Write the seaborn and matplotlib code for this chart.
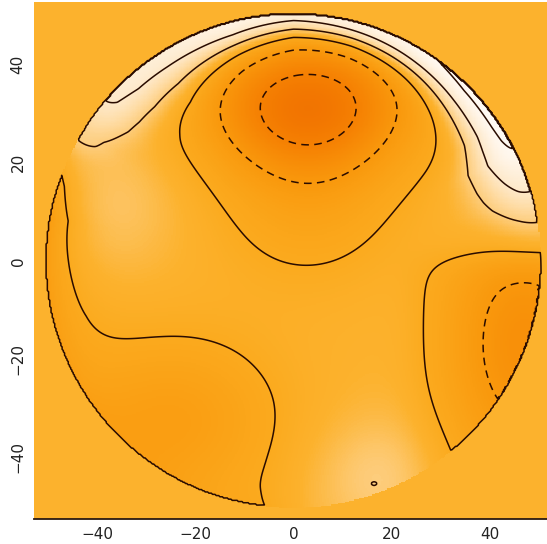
import numpy as np
import matplotlib
matplotlib.use("Agg")
import matplotlib.pyplot as plt
from matplotlib.colors import LinearSegmentedColormap
import seaborn as sns

# ---- disk and frame -------------------------------------------------------
disk_radius = 50.4
background_level = 0.4
x_range = (-52.9, 51.7)
y_range = (-52.7, 52.8)
x_ticks = [-40, -20, 0, 20, 40]
y_ticks = [-40, -20, 0, 20, 40]

# ---- compact features: centre x, centre y, amplitude, sigma x, sigma y -----
#      northern core, its southern skirt, south-west lobe, southern bright
#      patch, its small peak, western bright patch
feat_x = [3.0, 3.0, -24.0, 17.0, 16.4, -38.0]
feat_y = [32.0, 12.0, -32.0, -44.5, -45.5, 11.0]
feat_amp = [-2.8, -0.68, -1.0, 0.60, 0.05, 0.5]
feat_sx = [15.0, 13.0, 15.0, 9.0, 0.45, 10.0]
feat_sy = [10.0, 12.0, 12.0, 9.0, 0.3, 10.0]

# ---- eastern patch with soft northern and western cut-offs ----------------
patch_x, patch_y = 47.0, -17.0
patch_amp = -1.75
patch_sx, patch_sy = 12.5, 22.0
patch_north_edge, patch_north_soft = 1.0, 2.0
patch_west_edge, patch_west_soft = 22.0, 2.5

# ---- bright arc along the northern limb (position angle in degrees) -------
arc_angle = [0, 6, 10, 14, 17, 20, 26, 30, 34, 45, 58, 75, 90, 105, 123, 132, 138, 142, 148, 155, 162]
arc_amp = [0, 0.3, 0.75, 1.3, 1.7, 2.0, 2.6, 2.75, 2.85, 3.0, 3.0, 2.8, 2.5, 2.7, 2.2, 2.0, 1.75, 1.4, 0.7, 0.2, 0]
arc_width = [7, 8, 9, 10, 10, 10, 9.5, 8.5, 7.5, 6.5, 5.5, 4.5, 4.3, 6, 9, 9, 8.5, 8.2, 7, 6, 6]

# ---- dark arc along the south-western limb --------------------------------
dark_angle = [150, 160, 170, 180, 195, 210, 230, 250, 262, 268, 275]
dark_amp = [0, -0.75, -1.4, -1.25, -1.0, -0.6, -0.35, -0.3, -0.3, -0.15, 0]
dark_depth = 6.0

neg_levels = [-2, -1]
pos_levels = [0, 1, 2, 3, 4]

# colour ramp: field value -> RGB
ramp_values = [-2.8, -2.0, -1.0, 0.0, 0.4, 1.0, 1.5, 2.0, 3.0, 3.6]
ramp_colors = ["#f07000", "#f58002", "#f9980c", "#fbaa1e", "#fcb22e",
               "#fdcd7d", "#fedca5", "#fee8c8", "#fff8f0", "#ffffff"]

# ---- sample the field on a fine grid --------------------------------------
cell = 0.25
nx = int(round((x_range[1] - x_range[0]) / cell))
ny = int(round((y_range[1] - y_range[0]) / cell))
cw = (x_range[1] - x_range[0]) / nx
ch = (y_range[1] - y_range[0]) / ny
xc = x_range[0] + (np.arange(nx) + 0.5) * cw
yc = y_range[1] - (np.arange(ny) + 0.5) * ch
X, Y = np.meshgrid(xc, yc)

r = np.hypot(X, Y)
theta = np.degrees(np.arctan2(Y, X))
depth = np.clip(disk_radius - r, 0, None)

field = np.full_like(X, background_level)
for cx, cy, a, sx, sy in zip(feat_x, feat_y, feat_amp, feat_sx, feat_sy):
    field += a * np.exp(-((X - cx) ** 2 / (2 * sx ** 2) + (Y - cy) ** 2 / (2 * sy ** 2)))

cut = (1.0 / (1.0 + np.exp((Y - patch_north_edge) / patch_north_soft))
       / (1.0 + np.exp(-(X - patch_west_edge) / patch_west_soft)))
field += patch_amp * cut * np.exp(-((X - patch_x) ** 2 / (2 * patch_sx ** 2)
                                    + (Y - patch_y) ** 2 / (2 * patch_sy ** 2)))

a_arc = np.interp(theta, arc_angle, arc_amp, left=0, right=0)
w_arc = np.interp(theta, arc_angle, arc_width)
field += a_arc * np.exp(-(depth / w_arc) ** 2)

a_dark = np.interp(np.mod(theta, 360), dark_angle, dark_amp, left=0, right=0)
field += a_dark * np.exp(-depth / dark_depth)

field[r > disk_radius] = background_level

# ---- draw -----------------------------------------------------------------
sns.set_style("white")
plt.rcParams["font.family"] = ["DejaVu Sans"]

lo, hi = ramp_values[0], ramp_values[-1]
cmap = LinearSegmentedColormap.from_list(
    "limb", [((v - lo) / (hi - lo), c) for v, c in zip(ramp_values, ramp_colors)])

fig = plt.figure(figsize=(5.47, 5.44), dpi=100)
ax = fig.add_axes([34 / 547, 1 - 519 / 544, 513 / 547, 517 / 544])

sns.heatmap(field, ax=ax, cmap=cmap, vmin=lo, vmax=hi, cbar=False,
            xticklabels=False, yticklabels=False, rasterized=True)

line_color = "#2a0c00"
xi = np.arange(nx) + 0.5
yi = np.arange(ny) + 0.5
ax.contour(xi, yi, field, levels=pos_levels, colors=line_color,
           linewidths=1.1, linestyles="solid")
ax.contour(xi, yi, field, levels=neg_levels, colors=line_color,
           linewidths=1.1, linestyles=[(0, (5, 3.5))])

ax.set_xlim(0, nx)
ax.set_ylim(ny, 0)
ax.set_xticks([(v - x_range[0]) / cw for v in x_ticks])
ax.set_xticklabels([str(v).replace("-", "\u2212") for v in x_ticks])
ax.set_yticks([(y_range[1] - v) / ch for v in y_ticks])
ax.set_yticklabels([str(v).replace("-", "\u2212") for v in y_ticks],
                   rotation=90, va="center")
ax.tick_params(axis="both", length=0, labelsize=11, colors="#222222")
ax.tick_params(axis="x", pad=6)
ax.tick_params(axis="y", pad=6)

for side in ("top", "right", "left"):
    ax.spines[side].set_visible(False)
ax.spines["bottom"].set_visible(True)
ax.spines["bottom"].set_color("#2a1a10")
ax.spines["bottom"].set_linewidth(1.3)

fig.savefig("out.png", dpi=100)
